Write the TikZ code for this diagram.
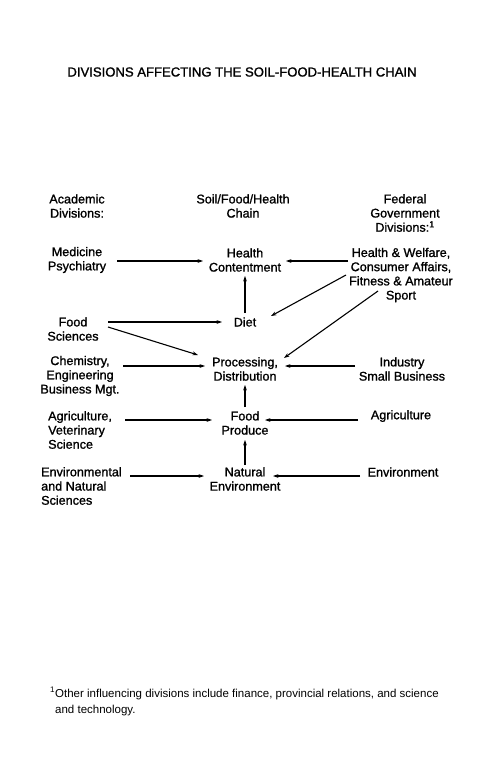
\documentclass[tikz,border=0pt]{standalone}
\usepackage{fontspec}
\setmainfont{Liberation Sans}
\newfontfamily\heavy{Liberation Sans}[FakeBold=1.2]
\usetikzlibrary{arrows.meta}
\begin{document}
\begin{tikzpicture}[x=1pt,y=-1pt,
  txt/.style={inner sep=0pt,align=center,font=\heavy\fontsize{12.6}{14.2}\selectfont},
  txtl/.style={inner sep=0pt,align=left,anchor=west,font=\heavy\fontsize{12.6}{14.2}\selectfont},
  arr/.style={line width=1.1pt,-{Stealth[length=5.5pt,width=3.8pt]}}]
\useasboundingbox[fill=white] (0,0) rectangle (481,782);
\node[txt,font=\heavy\fontsize{13.1}{15}\selectfont] (title) at (242,72) {DIVISIONS AFFECTING THE SOIL-FOOD-HEALTH CHAIN};
\node[txt] (hA) at (77,206) {Academic\\Divisions:};
\node[txt] (hC) at (243,206) {Soil/Food/Health\\Chain};
\node[txt] (hF) at (405,213) {Federal\\Government\\Divisions:\textsuperscript{1}};
\node[txt] (med) at (77,260) {Medicine\\Psychiatry};
\node[txt] (hc) at (245,260) {Health\\Contentment};
\node[txt] (hw) at (401,275) {Health \& Welfare,\\Consumer Affairs,\\Fitness \& Amateur\\Sport};
\node[txt] (fs) at (73,329) {Food\\Sciences};
\node[txt] (diet) at (245,322) {Diet};
\node[txt] (chem) at (80,376) {Chemistry,\\Engineering\\Business Mgt.};
\node[txt] (proc) at (245,369) {Processing,\\Distribution};
\node[txt] (ind) at (402,369) {Industry\\Small Business};
\node[txtl] (agl) at (48,430) {Agriculture,\\Veterinary\\Science};
\node[txt] (fp) at (245,423) {Food\\Produce};
\node[txt] (agr) at (401,416) {Agriculture};
\node[txtl] (envl) at (41,486) {Environmental\\and Natural\\Sciences};
\node[txt] (ne) at (245,479) {Natural\\Environment};
\node[txt] (env) at (403,472) {Environment};
\node[inner sep=0pt,align=left,anchor=north west,font=\fontsize{11.5}{16}\selectfont] (foot) at (55,687)
  {\llap{\textsuperscript{1}}Other influencing divisions include finance, provincial relations, and science\\and technology.};
% arrows
\draw[arr] ([xshift=40,yshift=-1]med.center) -- ([xshift=-42,yshift=-1]hc.center);
\draw[arr] ([xshift=-53,yshift=14]hw.center) -- ([xshift=41,yshift=-1]hc.center);
\draw[arr] ([yshift=9]diet.center) -- ([yshift=-16]hc.center);
\draw[arr] ([xshift=-55,yshift=0]hw.center) -- ([xshift=26,yshift=6]diet.center);
\draw[arr] ([xshift=-23,yshift=-16]hw.center) -- ([xshift=39,yshift=11]proc.center);
\draw[arr] ([xshift=35,yshift=7]fs.center) -- ([xshift=-23]diet.center);
\draw[arr] ([xshift=35,yshift=2]fs.center) -- ([xshift=-47,yshift=14]proc.center);
\draw[arr] ([xshift=43,yshift=10]chem.center) -- ([xshift=-40,yshift=3]proc.center);
\draw[arr] ([xshift=-47,yshift=3]ind.center) -- ([xshift=40,yshift=3]proc.center);
\draw[arr] ([yshift=16]fp.center) -- ([yshift=-16]proc.center);
\draw[arr] ([xshift=77,yshift=10]agl.west) -- ([xshift=-33,yshift=3]fp.center);
\draw[arr] ([xshift=-43,yshift=-4]agr.center) -- ([xshift=20,yshift=3]fp.center);
\draw[arr] ([yshift=14]ne.center) -- ([yshift=-17]fp.center);
\draw[arr] ([xshift=89,yshift=10]envl.west) -- ([xshift=-41,yshift=3]ne.center);
\draw[arr] ([xshift=-43,yshift=-4]env.center) -- ([xshift=28,yshift=3]ne.center);
\end{tikzpicture}
\end{document}
